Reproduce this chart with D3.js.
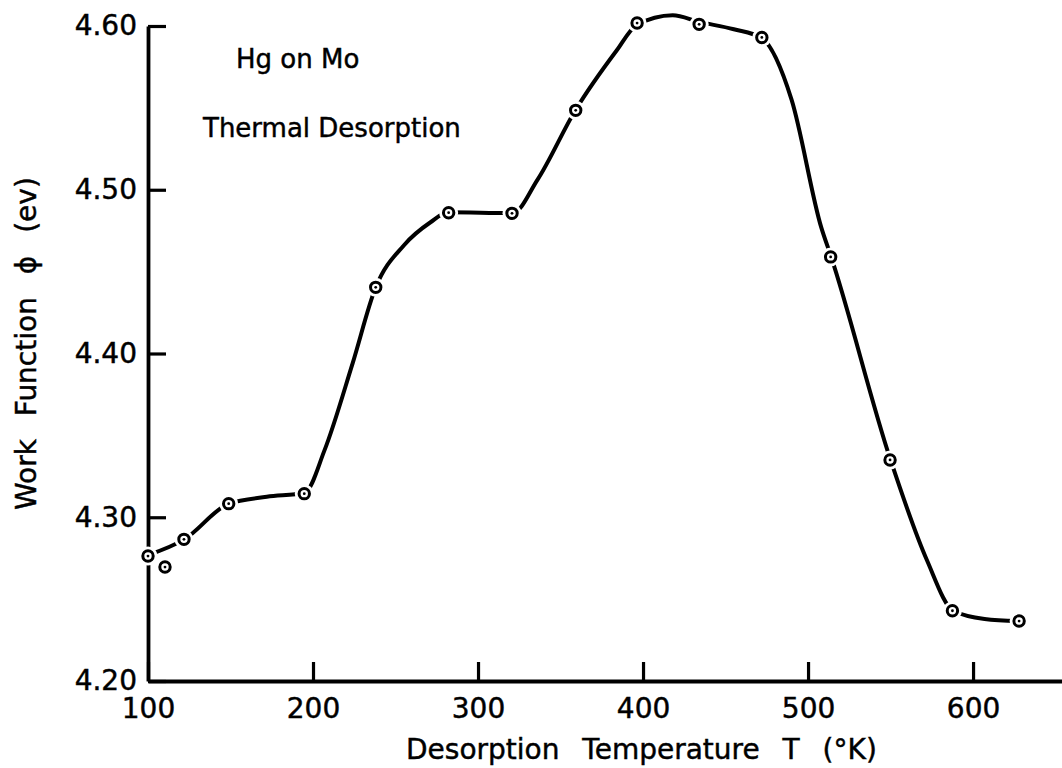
<!DOCTYPE html>
<html>
<head>
<meta charset="utf-8">
<script src="https://cdn.jsdelivr.net/npm/d3@7"></script>
<style>
  html, body { margin: 0; padding: 0; background: #fff; }
  svg { display: block; }
  text { font-family: "DejaVu Sans", sans-serif; fill: #000; stroke: #000; stroke-width: 0.45px; }
</style>
</head>
<body>
<svg id="chart" width="1062" height="768"></svg>
<script>
// Measured points (Desorption temperature T in °K, work function phi in eV)
const pointsT   = [100, 110.3, 121.8, 148.9, 194.7, 238.0, 282.2, 320.6, 359.2, 396.4, 434, 472, 513.7, 549.7, 587.5, 627.9];
const pointsPhi = [4.2763, 4.2696, 4.2865, 4.3083, 4.3144, 4.4404, 4.486, 4.4856, 4.5485, 4.6018, 4.601, 4.593, 4.459, 4.335, 4.2429, 4.2366];

// Hand-drawn smooth curve, read along its path
const curveT   = [100, 122, 149, 172, 195, 207, 224, 238, 255, 271, 282, 321, 336, 359, 384, 396, 418, 434, 455, 472, 490, 508, 514, 550, 572, 588, 607, 628];
const curvePhi = [4.2769, 4.2865, 4.3083, 4.3125, 4.3150, 4.341, 4.394, 4.4404, 4.4660, 4.4800, 4.4862, 4.4858, 4.506, 4.5485, 4.585, 4.6005, 4.6065, 4.6025, 4.598, 4.5925, 4.555, 4.477, 4.459, 4.335, 4.2739, 4.2429, 4.2379, 4.2366];

const xTicks = [100, 200, 300, 400, 500, 600];
const yTicks = [4.20, 4.30, 4.40, 4.50, 4.60];
const xTitle = "Desorption Temperature T (°K)";
const yTitle = "Work Function ϕ (ev)";
const notes  = ["Hg on Mo", "Thermal Desorption"];

const svg = d3.select("#chart");
svg.append("rect").attr("width", 1062).attr("height", 768).attr("fill", "#fff");

const x = d3.scaleLinear().domain([100, 653.9]).range([148, 1062]);
const y = d3.scaleLinear().domain([4.20, 4.60]).range([681, 26]);

// X axis
const gx = svg.append("g").attr("transform", `translate(0,${y(4.20)})`)
  .call(d3.axisBottom(x).tickValues(xTicks).tickFormat(d3.format("d"))
        .tickSize(-19).tickSizeOuter(0).tickPadding(17));
gx.select(".domain").attr("stroke", "#000").attr("stroke-width", 3.8);
gx.selectAll(".tick line").attr("stroke", "#000").attr("stroke-width", 3.2);
gx.selectAll(".tick text").attr("font-size", 28).attr("font-family", "DejaVu Sans").attr("fill", "#000");

// Y axis
const gy = svg.append("g").attr("transform", `translate(${x(100)},0)`)
  .call(d3.axisLeft(y).tickValues(yTicks).tickFormat(d3.format(".2f"))
        .tickSize(-18).tickSizeOuter(0).tickPadding(11));
gy.select(".domain").attr("stroke", "#000").attr("stroke-width", 3.8);
gy.selectAll(".tick line").attr("stroke", "#000").attr("stroke-width", 3.2);
gy.selectAll(".tick text").attr("font-size", 28).attr("font-family", "DejaVu Sans").attr("fill", "#000");

// Curve
const curveData = curveT.map((t, i) => [t, curvePhi[i]]);
const line = d3.line().x(d => x(d[0])).y(d => y(d[1])).curve(d3.curveMonotoneX);
svg.append("path").datum(curveData).attr("d", line)
  .attr("fill", "none").attr("stroke", "#000").attr("stroke-width", 4)
  .attr("stroke-linecap", "round");

// Markers: white halo, ring, centre dot
const pts = pointsT.map((t, i) => [t, pointsPhi[i]]);
const gm = svg.append("g");
gm.selectAll("circle.halo").data(pts).join("circle").attr("class", "halo")
  .attr("cx", d => x(d[0])).attr("cy", d => y(d[1])).attr("r", 9.5).attr("fill", "#fff");
gm.selectAll("circle.ring").data(pts).join("circle").attr("class", "ring")
  .attr("cx", d => x(d[0])).attr("cy", d => y(d[1])).attr("r", 5.2)
  .attr("fill", "#fff").attr("stroke", "#000").attr("stroke-width", 3);
gm.selectAll("circle.dot").data(pts).join("circle").attr("class", "dot")
  .attr("cx", d => x(d[0])).attr("cy", d => y(d[1])).attr("r", 1.4).attr("fill", "#000");

// Annotations
svg.append("text").attr("x", 236).attr("y", 68).attr("font-size", 26).text(notes[0]);
svg.append("text").attr("x", 203).attr("y", 137).attr("font-size", 26).text(notes[1]);

// Axis titles
svg.append("text").attr("x", 406).attr("y", 759).attr("font-size", 28)
  .style("word-spacing", "14px").text(xTitle);
svg.append("text").attr("transform", "translate(36,510) rotate(-90)")
  .attr("x", 0).attr("y", 0).attr("font-size", 28)
  .style("word-spacing", "14px").text(yTitle);
</script>
</body>
</html>
